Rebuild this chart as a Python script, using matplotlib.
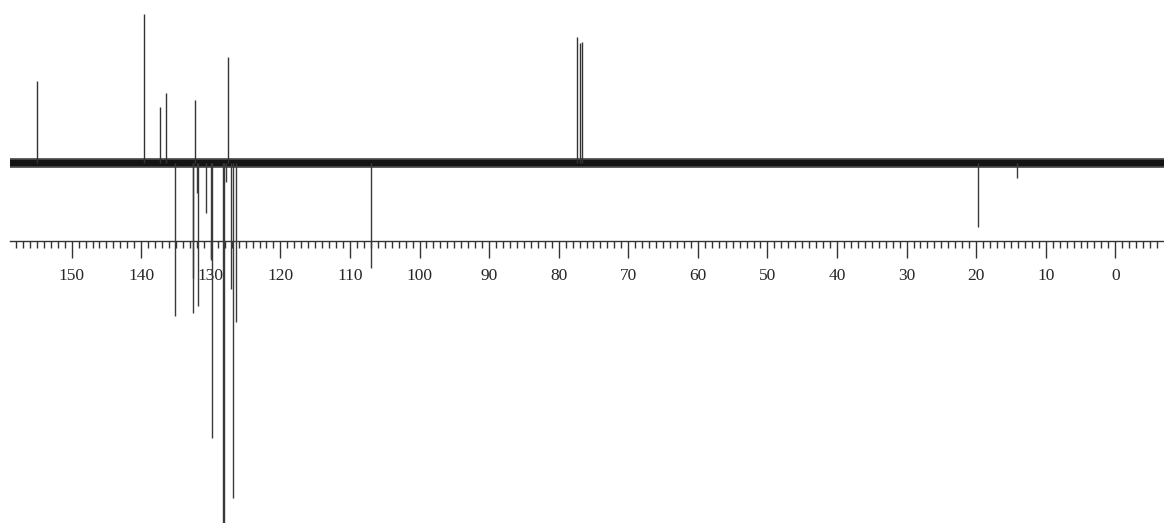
import matplotlib
matplotlib.use("Agg")
import matplotlib.pyplot as plt
from matplotlib.ticker import FixedLocator

# Peak positions (ppm) and intensities (baseline = 0, positive up)
pos_ppm = [155.0, 139.65, 137.3, 136.4, 132.3, 127.5, 77.3, 76.9, 76.6]
pos_int = [82, 149, 56, 70, 63, 106, 126, 120, 121]

neg_ppm = [135.1, 132.6, 132.5, 131.95, 131.85, 130.75, 130.0, 129.9,
           128.3, 128.05, 127.8, 127.1, 126.8, 126.4, 107.0, 19.8, 14.1]
neg_int = [-153, -115, -150, -30, -143, -50, -97, -275,
           -420, -420, -19, -126, -335, -159, -105, -64, -15]

spec_start, spec_end = 158.9, -7.0
major_ticks = list(range(150, -1, -10))
minor_ticks = list(range(158, -7, -1))

fig = plt.figure(figsize=(11.64, 5.23), dpi=100)
ax = fig.add_axes([0, 0, 1, 1])
ax.set_xlim(160.3, -7.0)
ax.set_ylim(-360, 163)

# baseline noise band
ax.plot([spec_start, spec_end], [0, 0], color="#4a4a4a", lw=7.0, solid_capstyle="butt", zorder=2)
ax.plot([spec_start, spec_end], [0, 0], color="#141414", lw=4.5, solid_capstyle="butt", zorder=2)

ax.vlines(pos_ppm, 0, pos_int, color="#333333", lw=1.0, zorder=3)
ax.vlines(neg_ppm, 0, neg_int, color="#3a3a3a", lw=1.0, zorder=3)

for s in ["top", "left", "right"]:
    ax.spines[s].set_visible(False)
ax.spines["bottom"].set_position(("data", -77.7))
ax.spines["bottom"].set_bounds(spec_start, spec_end)
ax.spines["bottom"].set_color("#333333")
ax.spines["bottom"].set_linewidth(1.0)
ax.set_yticks([])
ax.set_xticks(major_ticks)
ax.set_xticklabels([str(t) for t in major_ticks])
ax.xaxis.set_minor_locator(FixedLocator(minor_ticks))
ax.tick_params(axis="x", which="major", direction="out", length=12, width=1.0,
               color="#333333", pad=8, labelsize=12.5, labelcolor="#262626")
ax.tick_params(axis="x", which="minor", direction="out", length=5, width=1.0,
               color="#333333")
for lab in ax.get_xticklabels():
    lab.set_family("Liberation Serif")

fig.savefig("out.png", dpi=100)
